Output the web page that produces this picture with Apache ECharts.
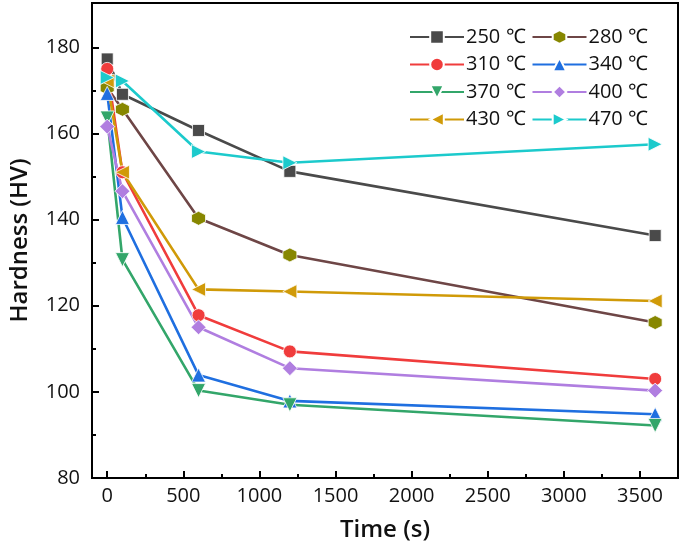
<!DOCTYPE html>
<html><head><meta charset="utf-8">
<script src="https://cdn.jsdelivr.net/npm/echarts@6/dist/echarts.min.js"></script>
<style>html,body{margin:0;padding:0;background:#fff}#c{width:685px;height:553px}</style>
</head><body><div id="c"></div>
<script>
const times = [0, 100, 600, 1200, 3600];
const names = ['250 ℃','280 ℃','310 ℃','340 ℃','370 ℃','400 ℃','430 ℃','470 ℃'];
const h250 = [177.3, 169.1, 160.7, 151.2, 136.3];
const h280 = [170.6, 165.6, 140.3, 131.8, 116.1];
const h310 = [175.0, 151.0, 117.8, 109.4, 103.0];
const h340 = [169.3, 140.5, 103.9, 97.9, 94.8];
const h370 = [163.6, 130.7, 100.3, 97.0, 92.2];
const h400 = [161.6, 146.6, 115.0, 105.5, 100.3];
const h430 = [172.2, 151.0, 123.8, 123.3, 121.1];
const h470 = [173.0, 172.2, 155.8, 153.2, 157.5];
const xMajor = [0, 500, 1000, 1500, 2000, 2500, 3000, 3500];
const xMinor = [250, 750, 1250, 1750, 2250, 2750, 3250];
const yMajor = [80, 100, 120, 140, 160, 180];
const yMinor = [90, 110, 130, 150, 170];

const hex = 'path://M0,-10 L8.66,-5 L8.66,5 L0,10 L-8.66,5 L-8.66,-5 Z';
const styles = [
  {line:'#4a4a4a', mark:'#4a4a4a', sym:'rect', rot:0, size:12},
  {line:'#6e4646', mark:'#878700', sym:hex, rot:0, size:14},
  {line:'#f03c3c', mark:'#f03c3c', sym:'circle', rot:0, size:13},
  {line:'#1f6fe0', mark:'#1f6fe0', sym:'triangle', rot:0, size:14},
  {line:'#33a66a', mark:'#33a66a', sym:'triangle', rot:180, size:14},
  {line:'#b07ee0', mark:'#b07ee0', sym:'diamond', rot:0, size:15},
  {line:'#d09a08', mark:'#d09a08', sym:'triangle', rot:90, size:14},
  {line:'#1ccacc', mark:'#1ccacc', sym:'triangle', rot:-90, size:14}
];
const values = [h250, h280, h310, h340, h370, h400, h430, h470];

const series = values.map((v, i) => ({
  name: names[i], type: 'line', xAxisIndex: 0, yAxisIndex: 0,
  data: times.map((t, j) => [t, v[j]]),
  symbol: styles[i].sym, symbolRotate: styles[i].rot, symbolSize: styles[i].size,
  lineStyle: {color: styles[i].line, width: 2.6},
  itemStyle: {color: styles[i].mark, borderColor: '#fff', borderWidth: 0.8},
  emphasis: {disabled: true}
}));

const font = 'Open Sans';
const legends = [0,1,2,3].map(r => ({
  data: [names[2*r], names[2*r+1]], left: 404, top: 22 + r * 27.5,
  orient: 'horizontal', itemWidth: 54, itemHeight: 17, itemGap: 6,
  textStyle: {fontFamily: font, fontSize: 20, color: '#111', width: 60, padding: [0,0,0,-3]},
  selectedMode: false
}));

const plain = v => String(v);
const opt = {
  animation: false,
  backgroundColor: '#fff',
  grid: {left: 91, top: 3, right: 7, bottom: 75, show: true, borderColor: '#000', borderWidth: 2},
  legend: legends,
  xAxis: [{
    type: 'value', min: -100, max: 3750,
    name: 'Time (s)', nameLocation: 'middle', nameGap: 40,
    nameTextStyle: {fontFamily: font, fontSize: 24, fontWeight: 600, color: '#111'},
    axisLine: {onZero: false, lineStyle: {color: '#000', width: 2}},
    axisTick: {inside: true, length: 7, lineStyle: {width: 2, color: '#000'}, customValues: xMajor},
    axisLabel: {customValues: xMajor, formatter: plain, fontFamily: font, fontSize: 20, color: '#111', margin: 8},
    splitLine: {show: false}
  }, {
    type: 'value', min: -100, max: 3750, position: 'bottom',
    axisLine: {show: false, onZero: false},
    axisTick: {inside: true, length: 4, lineStyle: {width: 2, color: '#000'}, customValues: xMinor},
    axisLabel: {show: false}, splitLine: {show: false}
  }],
  yAxis: [{
    type: 'value', min: 80, max: 190.3,
    name: 'Hardness (HV)', nameLocation: 'middle', nameGap: 60,
    nameTextStyle: {fontFamily: font, fontSize: 24, fontWeight: 600, color: '#111'},
    axisLine: {show: true, onZero: false, lineStyle: {color: '#000', width: 2}},
    axisTick: {show: true, inside: true, length: 7, lineStyle: {width: 2, color: '#000'}, customValues: yMajor},
    axisLabel: {customValues: yMajor, formatter: plain, fontFamily: font, fontSize: 20, color: '#111', margin: 12},
    splitLine: {show: false}
  }, {
    type: 'value', min: 80, max: 190.3, position: 'left',
    axisLine: {show: false, onZero: false},
    axisTick: {show: true, inside: true, length: 4, lineStyle: {width: 2, color: '#000'}, customValues: yMinor},
    axisLabel: {show: false}, splitLine: {show: false}
  }],
  series: series
};
const chart = echarts.init(document.getElementById('c'), null, {renderer: 'canvas'});
chart.setOption(opt);
</script></body></html>
